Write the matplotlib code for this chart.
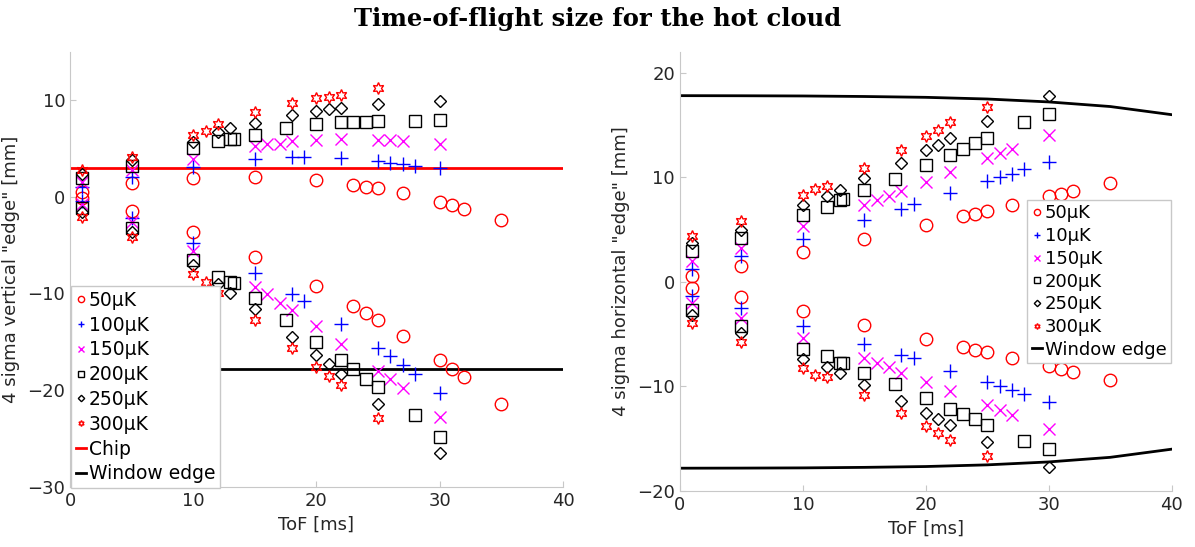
import matplotlib.pyplot as plt
import numpy as np

plt.rcParams['font.family'] = 'DejaVu Sans'

# ==========================================
# data (ToF in ms, edge in mm)
# ==========================================
tof_50 = [1, 5, 10, 15, 20, 23, 24, 25, 27, 30, 31, 32, 35]
tof_100 = [1, 5, 10, 15, 18, 19, 22, 25, 26, 27, 28, 30]
tof_150 = [1, 5, 10, 15, 16, 17, 18, 20, 22, 25, 26, 27, 30]
tof_200 = [1, 5, 10, 12, 13, 13.3, 15, 17.5, 20, 22, 23, 24, 25, 28, 30]
tof_250 = [1, 5, 10, 12, 13, 15, 18, 20, 21, 22, 25, 30]
tof_300 = [1, 5, 10, 11, 12, 15, 18, 20, 21, 22, 25]

# vertical (left panel)
v_up_50 = [0.5, 1.4, 1.9, 2.07, 1.73, 1.21, 1.03, 0.87, 0.35, -0.58, -0.86, -1.27, -2.41]
v_lo_50 = [-0.15, -1.48, -3.62, -6.2, -9.23, -11.3, -12.06, -12.75, -14.4, -16.9, -17.8, -18.6, -21.4]
v_up_100 = [1.0, 2.07, 3.1, 3.87, 4.07, 4.07, 3.97, 3.69, 3.52, 3.38, 3.2, 2.94]
v_lo_100 = [-0.4, -2.23, -4.76, -7.92, -10.1, -10.8, -13.2, -15.6, -16.5, -17.4, -18.3, -20.3]
v_up_150 = [1.5, 2.8, 3.87, 5.24, 5.5, 5.5, 5.76, 5.86, 5.97, 5.9, 5.86, 5.8, 5.42]
v_lo_150 = [-0.7, -2.58, -5.6, -9.37, -10.1, -10.96, -11.7, -13.4, -15.2, -18.0, -18.85, -19.8, -22.75]
v_up_200 = [1.95, 3.17, 5.0, 5.8, 5.94, 5.95, 6.38, 7.07, 7.49, 7.69, 7.72, 7.72, 7.83, 7.83, 7.93]
v_lo_200 = [-1.15, -3.2, -6.55, -8.27, -8.8, -8.96, -10.5, -12.75, -15.0, -16.9, -17.8, -18.8, -19.7, -22.6, -24.8]
v_up_250 = [2.35, 3.8, 5.7, 6.72, 7.07, 7.6, 8.45, 8.86, 9.04, 9.14, 9.59, 9.93]
v_lo_250 = [-1.55, -3.62, -7.06, -9.06, -10.0, -11.6, -14.5, -16.4, -17.3, -18.3, -21.4, -26.5]
v_up_300 = [2.75, 4.14, 6.38, 6.83, 7.52, 8.8, 9.72, 10.18, 10.34, 10.5, 11.2]
v_lo_300 = [-2.05, -4.14, -8.0, -8.8, -10.0, -12.75, -15.6, -17.6, -18.5, -19.5, -22.85]

# horizontal (right panel)
h_up_50 = [0.54, 1.56, 2.87, 4.11, 5.48, 6.27, 6.53, 6.75, 7.32, 8.18, 8.41, 8.66, 9.46]
h_lo_50 = [-0.57, -1.47, -2.74, -4.08, -5.42, -6.21, -6.47, -6.73, -7.27, -8.07, -8.32, -8.64, -9.41]
h_up_100 = [1.24, 2.45, 4.14, 5.89, 6.98, 7.45, 8.5, 9.62, 10.04, 10.35, 10.8, 11.47]
h_lo_100 = [-1.38, -2.49, -4.18, -5.9, -7.01, -7.3, -8.48, -9.6, -9.91, -10.3, -10.7, -11.47]
h_up_150 = [1.97, 3.25, 5.32, 7.32, 7.87, 8.25, 8.66, 9.6, 10.5, 11.85, 12.33, 12.74, 14.08]
h_lo_150 = [-2.0, -3.44, -5.35, -7.27, -7.74, -8.16, -8.7, -9.56, -10.46, -11.8, -12.27, -12.69, -14.05]
h_up_200 = [2.93, 4.2, 6.43, 7.17, 7.87, 7.9, 8.76, 9.85, 11.15, 12.17, 12.74, 13.29, 13.77, 15.3, 16.06]
h_lo_200 = [-2.65, -4.18, -6.38, -7.11, -7.74, -7.8, -8.7, -9.75, -11.1, -12.14, -12.62, -13.16, -13.7, -15.24, -15.97]
h_up_250 = [3.73, 5.0, 7.39, 8.18, 8.76, 9.94, 11.4, 12.65, 13.13, 13.77, 15.42, 17.74]
h_lo_250 = [-3.13, -4.88, -7.33, -8.13, -8.7, -9.88, -11.35, -12.5, -13.07, -13.7, -15.33, -17.69]
h_up_300 = [4.43, 5.8, 8.35, 8.89, 9.2, 10.9, 12.65, 13.92, 14.56, 15.26, 16.73]
h_lo_300 = [-3.92, -5.77, -8.22, -8.86, -9.08, -10.77, -12.5, -13.8, -14.44, -15.14, -16.67]

# reference lines
chip_level = 3.0
window_vertical = -17.8
tof_window = [0, 5, 10, 15, 20, 25, 30, 35, 40]
window_horizontal = [17.82, 17.81, 17.79, 17.74, 17.66, 17.5, 17.22, 16.78, 16.0]

labels_left = ['50µK', '100µK', '150µK', '200µK', '250µK', '300µK']
labels_right = ['50µK', '10µK', '150µK', '200µK', '250µK', '300µK']

# ==========================================
# styles
# ==========================================
styles = [
    dict(marker='o', color='#ff0000', ms=9, mew=1.0),
    dict(marker='+', color='#0000ff', ms=10, mew=1.0),
    dict(marker='x', color='#ff00ff', ms=8, mew=1.0),
    dict(marker='s', color='#000000', ms=9, mew=1.0),
    dict(marker='D', color='#000000', ms=6.5, mew=1.0),
    dict(marker=(6, 1, 0), color='#ff0000', ms=8.5, mew=1.0),
]
tofs = [tof_50, tof_100, tof_150, tof_200, tof_250, tof_300]
vert = [(v_up_50, v_lo_50), (v_up_100, v_lo_100), (v_up_150, v_lo_150),
        (v_up_200, v_lo_200), (v_up_250, v_lo_250), (v_up_300, v_lo_300)]
horiz = [(h_up_50, h_lo_50), (h_up_100, h_lo_100), (h_up_150, h_lo_150),
         (h_up_200, h_lo_200), (h_up_250, h_lo_250), (h_up_300, h_lo_300)]

legend_kw = dict(markerscale=0.5, handlelength=0.55, handletextpad=0.15,
                 borderpad=0.25, borderaxespad=0.05, fancybox=False,
                 framealpha=1, edgecolor='#c8c8c8')


def draw_series(ax, data, labels):
    handles = []
    for st, t, (up, lo), lab in zip(styles, tofs, data, labels):
        x = list(t) + list(t)
        y = list(up) + list(lo)
        h, = ax.plot(x, y, linestyle='none', marker=st['marker'], markersize=st['ms'],
                     markeredgewidth=st['mew'], markeredgecolor=st['color'],
                     markerfacecolor='none', label=lab, zorder=3)
        handles.append(h)
    return handles


def style_axes(ax):
    for s in ['top', 'right']:
        ax.spines[s].set_visible(False)
    for s in ['left', 'bottom']:
        ax.spines[s].set_color('#c8c8c8')
    ax.tick_params(direction='in', length=4, color='#c8c8c8', labelsize=13, labelcolor='#262626')
    ax.set_xlim(0, 40)
    ax.set_xticks([0, 10, 20, 30, 40])
    ax.set_xlabel('ToF [ms]', fontsize=13, color='#262626')
    ax.yaxis.set_label_coords(-0.102, 0.5)


fig = plt.figure(figsize=(11.95, 5.47), dpi=100)
ax1 = fig.add_axes([0.0586, 0.110, 0.4125, 0.7955])
ax2 = fig.add_axes([0.569, 0.1024, 0.4115, 0.8026])

# left panel
h1 = draw_series(ax1, vert, labels_left)
chip, = ax1.plot([0, 40], [chip_level, chip_level], color='#ff0000', lw=2, label='Chip', zorder=2)
win1, = ax1.plot([0, 40], [window_vertical, window_vertical], color='black', lw=2, label='Window edge', zorder=2)
ax1.set_ylim(-30, 15)
ax1.set_yticks([-30, -20, -10, 0, 10])
ax1.set_ylabel('4 sigma vertical "edge" [mm]', fontsize=13, color='#262626')
style_axes(ax1)
ax1.legend(handles=h1 + [chip, win1], loc='lower left', bbox_to_anchor=(0.0, -0.005),
           fontsize=13.5, labelspacing=0.31, **legend_kw)

# right panel
h2 = draw_series(ax2, horiz, labels_right)
win2, = ax2.plot(tof_window, window_horizontal, color='black', lw=2, label='Window edge', zorder=2)
ax2.plot(tof_window, [-v for v in window_horizontal], color='black', lw=2, zorder=2)
ax2.set_ylim(-20, 22)
ax2.set_yticks([-20, -10, 0, 10, 20])
ax2.set_ylabel('4 sigma horizontal "edge" [mm]', fontsize=13, color='#262626')
style_axes(ax2)
ax2.legend(handles=h2 + [win2], loc='center right', bbox_to_anchor=(1.0, 0.477),
           fontsize=13, labelspacing=0.26, **legend_kw)

fig.text(0.5, 0.988, 'Time-of-flight size for the hot cloud', ha='center', va='top',
         fontsize=17.5, family=['DejaVu Serif'], fontweight='bold')

plt.savefig('out.png', dpi=100, facecolor='white')
